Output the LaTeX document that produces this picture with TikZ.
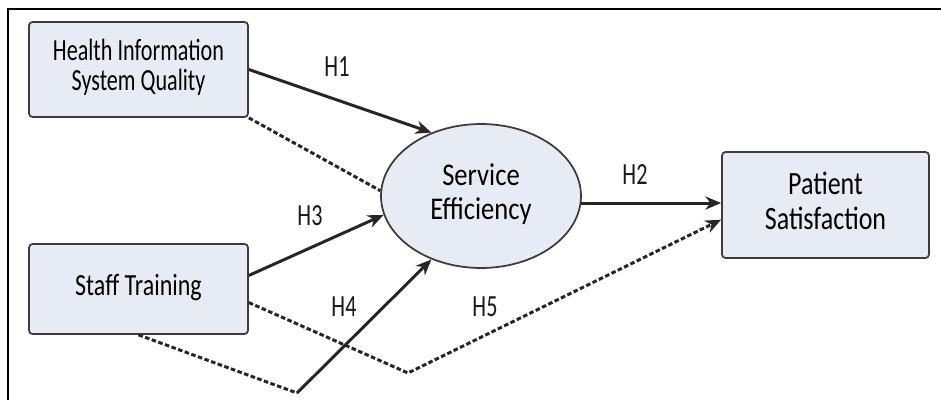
\documentclass[tikz,border=0pt]{standalone}
\usepackage{fontspec}
\setmainfont{Carlito}
\usepackage{graphicx}
\usepackage{tikz}
\usetikzlibrary{arrows.meta,positioning,shapes}
\definecolor{boxfill}{RGB}{231,235,243}
\definecolor{framegray}{RGB}{60,60,60}
% narrow (condensed) text block
\newcommand{\narrowtext}[2]{\scalebox{#1}[1]{\begin{tabular}{@{}c@{}}#2\end{tabular}}}

\begin{document}
\begin{tikzpicture}[x=0.02cm,y=-0.02cm,
    construct/.style={draw=framegray,line width=1pt,rounded corners=2pt,fill=boxfill,align=center,inner sep=0pt},
    mediator/.style={draw=framegray,line width=1pt,ellipse,fill=boxfill,align=center,minimum width=4cm,minimum height=2.88cm,inner sep=0pt},
    effect/.style={-{Stealth[length=9pt,width=7.5pt]},line width=1.7pt,draw=black!85},
    weak/.style={line width=1.7pt,draw=black!85,dash pattern=on 2.6pt off 1.4pt},
    hlabel/.style={font=\fontsize{17.5}{18}\selectfont,text=black!90,inner sep=0pt}]
    \useasboundingbox (0,0) rectangle (941,400);
    % frame
    \draw[line width=0.8pt] (941,9) -- (8,9) -- (8,400);

    % Constructs
    \node[construct,minimum width=4.38cm,minimum height=1.9cm,font=\fontsize{17.5}{16.5}\selectfont] (hisq) at (138.5,69.5)
        {\narrowtext{0.72}{Health Information\\System Quality}};
    \node[construct,minimum width=4.38cm,minimum height=1.8cm,font=\fontsize{17.5}{16.5}\selectfont] (staff) at (138.5,289)
        {\narrowtext{0.78}{Staff Training}};
    \node[mediator,font=\fontsize{18}{19}\selectfont] (eff) at (481,196)
        {\narrowtext{0.84}{Service\\Efficiency}};
    \node[construct,minimum width=4.14cm,minimum height=2.12cm,font=\fontsize{18.5}{20}\selectfont] (ps) at (825.5,205)
        {\narrowtext{0.8}{Patient\\Satisfaction}};

    % Bends of the lower paths
    \coordinate (bendA) at (297,393);
    \coordinate (bendB) at (408,373);

    % Paths
    \draw[effect] (hisq.east) -- (eff.128);
    \draw[weak] (hisq.south east) -- (eff.177);
    \draw[effect] (staff.7) -- (eff.191);
    \draw[weak] (staff.south) -- (bendA);
    \draw[effect] (bendA) -- (eff.232);
    \draw[weak,-{Stealth[length=9pt,width=7.5pt]}] (staff.-7) -- (bendB) -- (ps.188);
    \draw[effect] (eff.-4) -- (eff.-4 -| ps.west);

    % Hypotheses
    \node[hlabel] (h1) at (337,70) {\narrowtext{0.72}{H1}};
    \node[hlabel] (h2) at (635,178) {\narrowtext{0.72}{H2}};
    \node[hlabel] (h3) at (310,219) {\narrowtext{0.72}{H3}};
    \node[hlabel] (h4) at (344,310) {\narrowtext{0.72}{H4}};
    \node[hlabel] (h5) at (485,310) {\narrowtext{0.72}{H5}};
\end{tikzpicture}
\end{document}
